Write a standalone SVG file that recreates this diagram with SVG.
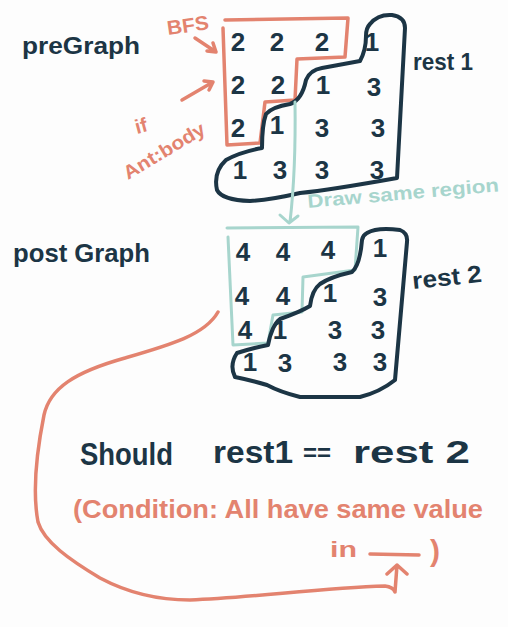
<svg xmlns="http://www.w3.org/2000/svg" width="508" height="627" viewBox="0 0 508 627">
<style>
.d{fill:#1c3545;font-family:"Liberation Sans",Arial,sans-serif;font-weight:bold}
.s{fill:#e3836f;font-family:"Liberation Sans",Arial,sans-serif;font-weight:bold}
.t{fill:#a7d5cd;font-family:"Liberation Sans",Arial,sans-serif;font-weight:bold}
.n{font-size:26px;text-anchor:middle}
.ld{fill:none;stroke:#1c3545;stroke-width:4;stroke-linecap:round;stroke-linejoin:round}
.ls{fill:none;stroke:#e3836f;stroke-width:3.5;stroke-linecap:round;stroke-linejoin:round}
.lt{fill:none;stroke:#a7d5cd;stroke-width:3;stroke-linecap:round;stroke-linejoin:round}
</style>
<rect width="508" height="627" fill="#fdfdfd"/>

<g id="preGraph">
  <text class="d" x="22" y="54" font-size="24" textLength="118" lengthAdjust="spacingAndGlyphs">preGraph</text>
  <g id="grid1" class="d n">
    <text x="238" y="51">2</text><text x="277" y="51">2</text><text x="322" y="51">2</text><text x="372" y="51">1</text>
    <text x="238" y="94">2</text><text x="278" y="94">2</text><text x="323" y="94">1</text><text x="374" y="96">3</text>
    <text x="238" y="137">2</text><text x="277" y="134">1</text><text x="322" y="137">3</text><text x="378" y="137">3</text>
    <text x="240" y="179">1</text><text x="280" y="179">3</text><text x="322" y="179">3</text><text x="377" y="179">3</text>
  </g>
  <g id="bfsRegion1">
    <path class="ls" d="M225,20 L348,18 L345,57 L297,59 L295,100 L265,102 L260,143 L227,145 L223,28"/>
  </g>
  <g id="rest1Region">
    <path class="ld" d="M370,24 Q378,14 392,15 Q405,17 405,28 L397,178 Q330,190 300,193 Q270,200 250,201 Q222,200 217,190 Q213,172 226,160 Q240,152 262,148 Q262,125 266,114 Q272,107 290,104 Q302,100 306,80 Q310,70 322,68 L360,61 Q366,50 366,36 Q366,28 370,24 Z"/>
  </g>
  <text class="d" x="413" y="70" font-size="24" textLength="60" lengthAdjust="spacingAndGlyphs">rest 1</text>
</g>

<g id="labels">
  <text class="s" x="168" y="35" font-size="20" transform="rotate(-8 168 35)" textLength="42" lengthAdjust="spacingAndGlyphs">BFS</text>
  <text class="s" x="137" y="134" font-size="20" transform="rotate(-15 137 134)">if</text>
  <text class="s" x="128" y="180" font-size="19" transform="rotate(-31 128 180)" textLength="92" lengthAdjust="spacingAndGlyphs">Ant:body</text>
  <text class="t" x="308" y="208" font-size="19" transform="rotate(-5 308 208)" textLength="192" lengthAdjust="spacingAndGlyphs">Draw same region</text>
</g>

<g id="postGraph">
  <text class="d" x="13" y="262" font-size="26" textLength="137" lengthAdjust="spacingAndGlyphs">post Graph</text>
  <g id="grid2" class="d n">
    <text x="243" y="261">4</text><text x="283" y="261">4</text><text x="328" y="259">4</text><text x="380" y="257">1</text>
    <text x="242" y="305">4</text><text x="283" y="305">4</text><text x="330" y="302">1</text><text x="380" y="306">3</text>
    <text x="245" y="339">4</text><text x="280" y="339">1</text><text x="335" y="339">3</text><text x="378" y="339">3</text>
    <text x="250" y="371">1</text><text x="285" y="372">3</text><text x="340" y="371">3</text><text x="380" y="371">3</text>
  </g>
  <g id="bfsRegion2">
    <path class="lt" d="M227,228 L358,227 L355,270 L303,277 L302,312 L273,315 L268,343 L233,345 L228,237"/>
  </g>
  <g id="rest2Region">
    <path class="ld" d="M367,233 Q377,227 400,230 Q408,233 407,242 L395,380 Q380,392 360,397 L300,397 Q280,392 267,385 Q250,380 235,377 Q229,365 237,353 Q253,348 268,345 Q272,325 280,319 Q300,312 310,306 Q312,290 320,284 Q330,277 352,272 Q360,265 362,240 Q363,235 367,233 Z"/>
  </g>
  <text class="d" x="413" y="289" font-size="24" transform="rotate(-6 413 289)" textLength="70" lengthAdjust="spacingAndGlyphs">rest 2</text>
</g>

<g id="statement">
  <text class="d" x="80" y="465" font-size="31" textLength="93" lengthAdjust="spacingAndGlyphs">Should</text>
  <text class="d" x="213" y="463" font-size="31" textLength="80" lengthAdjust="spacingAndGlyphs">rest1</text>
  <text class="d" x="303" y="461" font-size="24" textLength="28" lengthAdjust="spacingAndGlyphs">==</text>
  <text class="d" x="353" y="463" font-size="31" textLength="117" lengthAdjust="spacingAndGlyphs">rest 2</text>
  <text class="s" x="73" y="518" font-size="25" textLength="410" lengthAdjust="spacingAndGlyphs">(Condition: All have same value</text>
  <text class="s" x="330" y="557" font-size="22" textLength="27" lengthAdjust="spacingAndGlyphs">in</text>
  <path class="ls" d="M370,554 L419,555"/>
  <text class="s" x="430" y="561" font-size="30">)</text>
</g>

<g id="connectors">
  <path class="ls" d="M195,38 L216,52 M207,51 L216,52 L213,43"/>
  <path class="ls" d="M182,100 L213,82 M204,81 L213,82 L209,90"/>
  <path class="lt" d="M295,102 Q296,170 290,222 M280,215 L289,223 L298,216"/>
  <path class="ls" d="M218,312 C205,335 170,345 125,358 C75,372 50,388 44,415 C37,450 32,490 38,522 C44,542 70,560 100,578 C130,594 160,600 190,600 C250,598 320,588 385,586 Q393,587 395,592 L397,565 M387,574 L397,565 L407,574"/>
</g>
</svg>
